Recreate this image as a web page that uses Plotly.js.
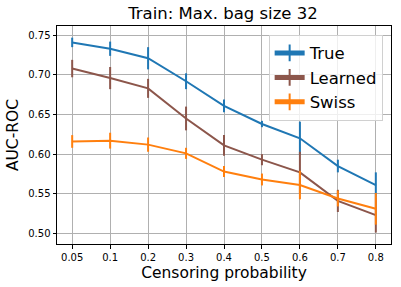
<!DOCTYPE html>
<html><head><meta charset="utf-8">
<script src="https://cdn.plot.ly/plotly-3.0.1.min.js"></script>
<style>html,body{margin:0;padding:0;background:#fff}#chart{width:401px;height:287px}</style>
</head><body><div id="chart"></div>
<script>
const categories = ["0.05","0.1","0.2","0.3","0.4","0.5","0.6","0.7","0.8"];
const trueVals   = [0.741,0.733,0.721,0.692,0.661,0.638,0.620,0.585,0.561];
const trueErr    = [0.006,0.009,0.014,0.010,0.008,0.004,0.021,0.008,0.016];
const learnedVals= [0.708,0.696,0.683,0.645,0.611,0.593,0.577,0.541,0.523];
const learnedErr = [0.011,0.014,0.012,0.015,0.013,0.007,0.026,0.014,0.022];
const swissVals  = [0.616,0.617,0.612,0.601,0.578,0.568,0.561,0.544,0.531];
const swissErr   = [0.008,0.010,0.009,0.007,0.007,0.0075,0.018,0.010,0.020];
const yTicks = [0.50,0.55,0.60,0.65,0.70,0.75];

function tr(name, vals, err, color){
  return {type:'scatter', mode:'lines+markers', name:name, x:categories, y:vals,
    line:{color:color,width:2},
    marker:{symbol:'line-ns-open', size:0.1, color:color, line:{color:color,width:2}},
    error_y:{type:'data', array:err, visible:true, color:color, thickness:2, width:0}};
}
const data = [
  tr('True', trueVals, trueErr, '#1f77b4'),
  tr('Learned', learnedVals, learnedErr, '#8c564b'),
  tr('Swiss', swissVals, swissErr, '#ff7f0e')
];
const layout = {
  width:401, height:287,
  margin:{l:57,r:10,t:26,b:43},
  paper_bgcolor:'#fff', plot_bgcolor:'#fff',
  font:{family:'DejaVu Sans', color:'#000'},
  title:{text:'Train: Max. bag size 32', font:{size:16.5,color:'#000'}, x:0.556, xanchor:'center', y:0.975, yanchor:'top'},
  xaxis:{type:'category', range:[-0.4,8.4], showgrid:true, gridcolor:'#b0b0b0', gridwidth:1,
    ticks:'outside', ticklen:3.5, tickcolor:'#000', tickfont:{size:10},
    showline:true, linecolor:'#000', linewidth:1, mirror:true, zeroline:false,
    title:{text:'Censoring probability', font:{size:15.5}, standoff:5}},
  yaxis:{range:[0.4866,0.7617], tickvals:yTicks, ticktext:yTicks.map(v=>v.toFixed(2)),
    showgrid:true, gridcolor:'#b0b0b0', gridwidth:1,
    ticks:'outside', ticklen:3.5, tickcolor:'#000', tickfont:{size:10},
    showline:true, linecolor:'#000', linewidth:1, mirror:true, zeroline:false,
    title:{text:'AUC-ROC', font:{size:15.5}, standoff:5}},
  legend:{x:0.975, xanchor:'right', y:0.96, yanchor:'top', font:{size:16.5},
    bgcolor:'rgba(255,255,255,0.8)', bordercolor:'#d0d0d0', borderwidth:1, itemsizing:'constant'},
  showlegend:true
};
Plotly.newPlot('chart', data, layout, {staticPlot:true, displayModeBar:false});
</script></body></html>
